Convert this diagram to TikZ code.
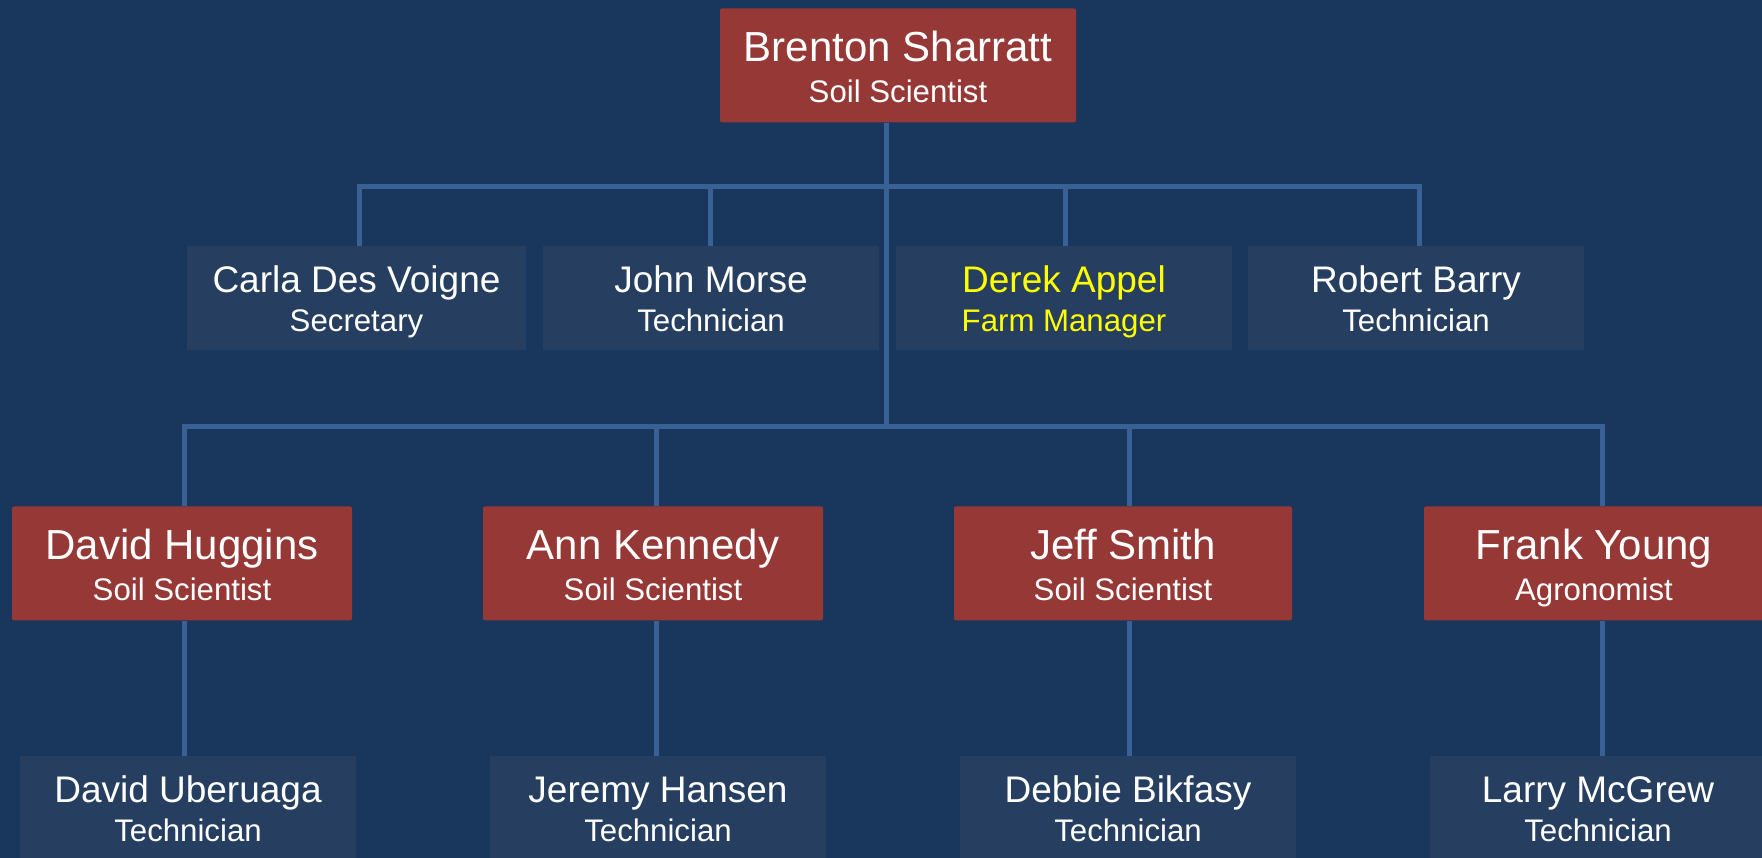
\documentclass[tikz,border=0pt]{standalone}
\usepackage{fontspec}
\setmainfont{Liberation Sans}
\definecolor{bgblue}{HTML}{19365D}
\definecolor{boxred}{HTML}{963836}
\definecolor{boxblue}{HTML}{263F61}
\definecolor{linkblue}{HTML}{3A6196}
\definecolor{hiyellow}{HTML}{FFFF00}
\newcommand{\bigperson}[8]{% id, box style, text colour, cx, top, width, name, title
  \node[#2, minimum width=#6*0.5pt, anchor=north] (#1) at (#4,#5) {};
  \node[bigname, text=#3, anchor=base] (#1-n) at (#4,#5+53) {#7};
  \node[jobtitle, text=#3, anchor=base] (#1-t) at (#4,#5+94) {#8};
}
\newcommand{\smallperson}[8]{% id, box style, text colour, cx, top, width, name, title
  \node[#2, minimum width=#6*0.5pt, anchor=north] (#1) at (#4,#5) {};
  \node[smallname, text=#3, anchor=base] (#1-n) at (#4,#5+46) {#7};
  \node[jobtitle, text=#3, anchor=base] (#1-t) at (#4,#5+85.5) {#8};
}
\begin{document}
\begin{tikzpicture}[x=0.5pt,y=-0.5pt,
  redbox/.style={fill=boxred, draw=none, rounded corners=1pt, inner sep=0pt, minimum height=57pt},
  bluebox/.style={fill=boxblue, draw=none, inner sep=0pt, minimum height=52pt},
  lowbox/.style={bluebox, minimum height=58pt},
  bigname/.style={inner sep=0pt, font=\fontsize{21}{25}\selectfont},
  smallname/.style={inner sep=0pt, font=\fontsize{18.5}{22}\selectfont},
  jobtitle/.style={inner sep=0pt, font=\fontsize{15.6}{19}\selectfont},
  link/.style={draw=linkblue, line width=2.5pt}]
\useasboundingbox (0,0) rectangle (1762,857);
\clip (0,0) rectangle (1762,857);
\fill[bgblue] (-5,-5) rectangle (1767,862);

% level 1
\bigperson{top}{redbox}{white}{898}{8}{356}{Brenton Sharratt}{Soil Scientist}
% level 2
\smallperson{carla}{bluebox}{white}{356.5}{246}{339}{Carla Des Voigne}{Secretary}
\smallperson{john}{bluebox}{white}{711}{246}{336}{John Morse}{Technician}
\smallperson{derek}{bluebox}{hiyellow}{1064}{246}{336}{Derek Appel}{Farm Manager}
\smallperson{robert}{bluebox}{white}{1416}{246}{336}{Robert Barry}{Technician}
% level 3
\bigperson{huggins}{redbox}{white}{182}{506}{340}{David Huggins}{Soil Scientist}
\bigperson{kennedy}{redbox}{white}{653}{506}{340}{Ann Kennedy}{Soil Scientist}
\bigperson{smith}{redbox}{white}{1123}{506}{338}{Jeff Smith}{Soil Scientist}
\bigperson{young}{redbox}{white}{1594}{506}{340}{Frank Young}{Agronomist}
% level 4
\smallperson{uberuaga}{lowbox}{white}{188}{756}{336}{David Uberuaga}{Technician}
\smallperson{hansen}{lowbox}{white}{658}{756}{336}{Jeremy Hansen}{Technician}
\smallperson{bikfasy}{lowbox}{white}{1128}{756}{336}{Debbie Bikfasy}{Technician}
\smallperson{mcgrew}{lowbox}{white}{1598}{756}{336}{Larry McGrew}{Technician}

% connector coordinates
\coordinate (barA) at (886,186);
\coordinate (barB) at (886,426);
\coordinate (dA1) at (359,186);
\coordinate (dA2) at (710,186);
\coordinate (dA3) at (1065,186);
\coordinate (dA4) at (1419,186);
\coordinate (dB1) at (184,426);
\coordinate (dB2) at (656,426);
\coordinate (dB3) at (1129,426);
\coordinate (dB4) at (1602,426);

\draw[link] (top.south -| barA) -- (barB);
\draw[link] (dA1 |- carla.north) -- (dA1) -- (dA4) -- (dA4 |- robert.north);
\draw[link] (dA2) -- (dA2 |- john.north);
\draw[link] (dA3) -- (dA3 |- derek.north);
\draw[link] (dB1 |- huggins.north) -- (dB1) -- (dB4) -- (dB4 |- young.north);
\draw[link] (dB2) -- (dB2 |- kennedy.north);
\draw[link] (dB3) -- (dB3 |- smith.north);
\draw[link] (dB1 |- huggins.south) -- (dB1 |- uberuaga.north);
\draw[link] (dB2 |- kennedy.south) -- (dB2 |- hansen.north);
\draw[link] (dB3 |- smith.south) -- (dB3 |- bikfasy.north);
\draw[link] (dB4 |- young.south) -- (dB4 |- mcgrew.north);
\end{tikzpicture}
\end{document}
